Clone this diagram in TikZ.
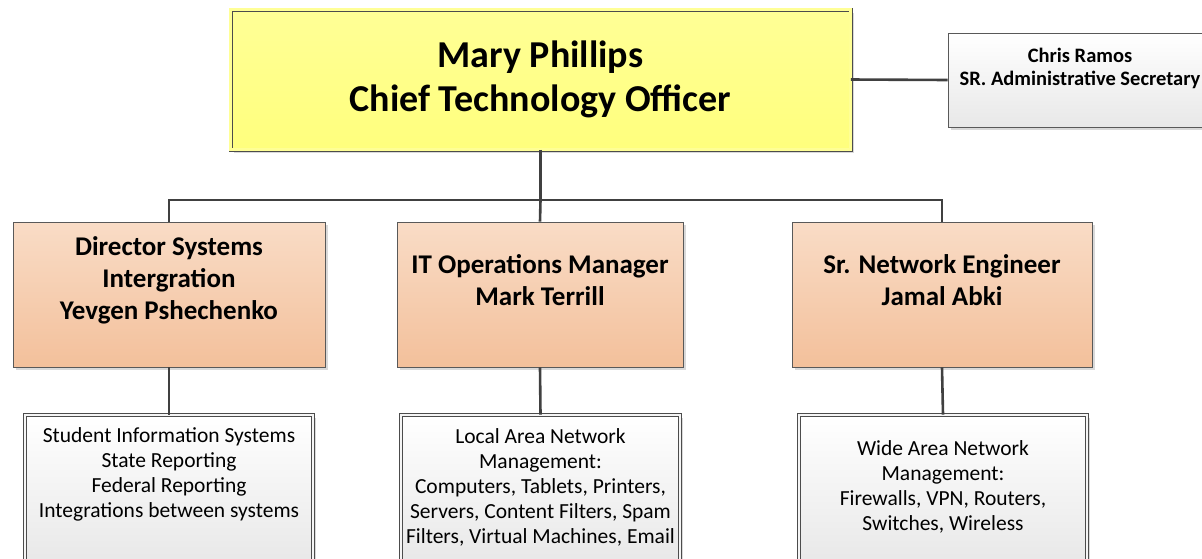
\documentclass[tikz,border=0pt]{standalone}
\usepackage{fontspec}
\setmainfont{Carlito}
\usepackage{xcolor}
\usepackage{tikz}
\usetikzlibrary{shadows}

\definecolor{ctoyellow}{RGB}{255,255,150}
\definecolor{ctoyellowdk}{RGB}{255,255,125}
\definecolor{mgrtop}{RGB}{249,220,198}
\definecolor{mgrbot}{RGB}{243,192,155}
\definecolor{dutybot}{RGB}{232,232,232}
\definecolor{linegray}{RGB}{64,64,64}

\begin{document}
\begin{tikzpicture}[x=1pt, y=-1pt,
    every node/.style={inner sep=0pt},
    wire/.style={draw=linegray, line width=2.6pt},
    boxshadow/.style={drop shadow={shadow xshift=3pt, shadow yshift=-3pt, fill=black!15, opacity=1}},
    ctobox/.style={boxshadow, draw=black!70, line width=0.7pt, double=ctoyellow, double distance=2.6pt,
        top color=ctoyellow, bottom color=ctoyellowdk, minimum width=620pt, minimum height=140pt,
        align=center, font=\bfseries\fontsize{38}{44}\selectfont},
    secbox/.style={boxshadow, draw=black!65, line width=0.8pt, top color=white, bottom color=dutybot,
        minimum width=264pt, minimum height=94pt},
    mgrbox/.style={boxshadow, draw=black!65, line width=0.8pt, top color=mgrtop, bottom color=mgrbot,
        minimum width=#1, minimum height=145pt},
    dutybox/.style={boxshadow, draw=black!70, line width=0.7pt, double=white!96!black, double distance=2.6pt,
        top color=white, bottom color=dutybot, minimum width=#1, minimum height=148pt},
    sectxt/.style={align=center, font=\bfseries\fontsize{20.5}{23}\selectfont},
    mgrtxt/.style={align=center, font=\bfseries\fontsize{27}{32}\selectfont},
    dutytxt/.style={align=center, font=\fontsize{21.5}{25}\selectfont}]

    \useasboundingbox[fill=white] (0,0) rectangle (1202,558);

    \node[ctobox] (cto) at (540.5,79.5) {Mary Phillips\\Chief Technology Officer};
    \node[secbox] (sec) at (1080,80) {};
    \node[sectxt] (sec-txt) at (1080,68.5) {Chris Ramos\\SR. Administrative Secretary};

    \node[mgrbox=312pt] (dsi) at (169,294.5) {};
    \node[mgrbox=286pt] (itm) at (540,294.5) {};
    \node[mgrbox=300pt] (sne) at (942,294.5) {};
    \node[mgrtxt] (dsi-txt) at (169,280) {Director Systems\\Intergration\\Yevgen Pshechenko};
    \node[mgrtxt] (itm-txt) at (540,280) {IT Operations Manager\\Mark Terrill};
    \node[mgrtxt] (sne-txt) at (942,280) {Sr. Network Engineer\\Jamal Abki};

    \node[dutybox=288pt] (sis) at (169,489) {};
    \node[dutybox=279pt] (lan) at (540.5,489) {};
    \node[dutybox=288pt] (wan) at (943,489) {};
    \node[dutytxt] (sis-txt) at (169,474.5) {Student Information Systems\\State Reporting\\Federal Reporting\\Integrations between systems};
    \node[dutytxt] (lan-txt) at (540.5,487) {Local Area Network\\Management:\\Computers, Tablets, Printers,\\Servers, Content Filters, Spam\\Filters, Virtual Machines, Email};
    \node[dutytxt] (wan-txt) at (943,486.5) {Wide Area Network\\Management:\\Firewalls, VPN, Routers,\\Switches, Wireless};

    \coordinate (bus) at (540.5,200);
    \draw[wire] (cto.east) -- (sec.west);
    \draw[wire] (cto.south) -- (bus);
    \draw[wire] (dsi.north) |- (bus) -| (sne.north);
    \draw[wire] (bus) -- (itm.north);
    \draw[wire] (dsi.south) -- (sis.north);
    \draw[wire] (itm.south) -- (lan.north);
    \draw[wire] (sne.south) -- (wan.north);
\end{tikzpicture}
\end{document}
